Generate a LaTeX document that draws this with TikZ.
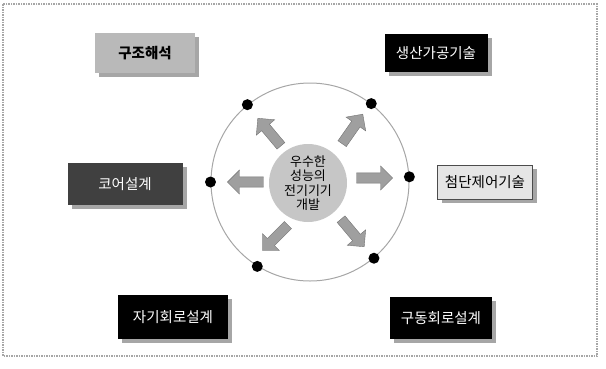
\documentclass[tikz,border=0pt]{standalone}
\usepackage{fontspec}
\setmainfont{Noto Sans CJK KR}
\usetikzlibrary{shapes.arrows,shadows}
\begin{document}
\begin{tikzpicture}[x=1pt,y=-1pt,
  boxbase/.style={minimum height=40pt,inner xsep=6pt,font=\fontsize{14.5}{16}\selectfont,
    drop shadow={shadow xshift=4pt,shadow yshift=-4pt,fill=gray!70,opacity=1}},
  blackbox/.style={boxbase,fill=black,text=white},
  darkbox/.style={boxbase,fill=black!75,text=white},
  graybox/.style={boxbase,fill=gray!55,text=black,font=\fontsize{14.5}{16}\selectfont\bfseries},
  lightbox/.style={boxbase,fill=gray!20,draw=black!70,line width=1pt,text=black,minimum height=34pt},
  dot/.style={circle,fill=black,minimum size=11pt,inner sep=0pt},
  bigarrow/.style={single arrow,fill=gray!75,draw=gray!90!black,minimum height=36pt,minimum width=24pt,
    single arrow head extend=3pt,inner sep=2pt}
]
\useasboundingbox (0,0) rectangle (606,368);
\draw[gray!70,densely dotted,line width=1.5pt] (3,4) rectangle (597,356);

\node[graybox,minimum width=100pt] (b1) at (145,53) {구조해석};
\node[blackbox,minimum width=103pt,minimum height=38pt] (b2) at (436,53) {생산가공기술};
\node[darkbox,minimum width=115pt,minimum height=42pt] (b3) at (125,184) {코어설계};
\node[lightbox,minimum width=95pt] (b4) at (485,182) {첨단제어기술};
\node[blackbox,minimum width=110pt,minimum height=44pt] (b5) at (173,317) {자기회로설계};
\node[blackbox,minimum width=102pt,minimum height=42pt] (b6) at (441,318) {구동회로설계};

\node[circle,draw=gray!70,line width=1pt,minimum size=198pt,inner sep=0pt] (ring) at (310,182) {};
\node[circle,fill=gray!45,minimum size=78pt,inner sep=0pt,align=center,
  font=\fontsize{13}{14.5}\selectfont] (core) at (308,183) {우수한\\성능의\\전기기기\\개발};

\node[dot] (d1) at (ring.129) {};
\node[dot] (d2) at (ring.52) {};
\node[dot] (d3) at (ring.180) {};
\node[dot] (d4) at (ring.3) {};
\node[dot] (d5) at (ring.238) {};
\node[dot] (d6) at (ring.310) {};

\node[bigarrow,rotate=130] (a1) at (271,134) {};
\node[bigarrow,rotate=55] (a2) at (351,131) {};
\node[bigarrow,rotate=180] (a3) at (248,182) {};
\node[bigarrow,rotate=0] (a4) at (372,178) {};
\node[bigarrow,rotate=-135] (a5) at (277,236) {};
\node[bigarrow,rotate=-50] (a6) at (351,231) {};
\end{tikzpicture}
\end{document}
